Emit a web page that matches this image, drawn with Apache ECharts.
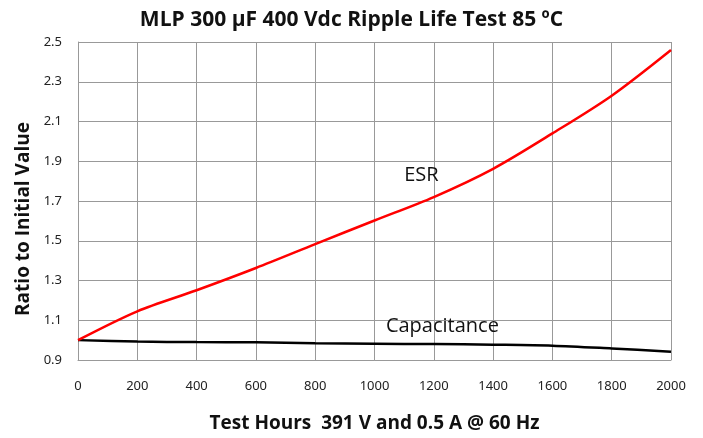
<!DOCTYPE html>
<html>
<head>
<meta charset="utf-8">
<script src="https://cdn.jsdelivr.net/npm/echarts@6/dist/echarts.min.js"></script>
<style>
  html, body { margin: 0; padding: 0; background: #fff; }
  #chart { width: 703px; height: 438px; }
</style>
</head>
<body>
<div id="chart"></div>
<script>
// data
var hours = [0, 200, 400, 600, 800, 1000, 1200, 1400, 1600, 1800, 2000];
var esr = [1.0, 1.145, 1.251, 1.363, 1.483, 1.602, 1.72, 1.862, 2.04, 2.23, 2.46];
var capacitance = [1.0, 0.993, 0.99, 0.989, 0.984, 0.982, 0.98, 0.977, 0.972, 0.958, 0.942];
var yTicks = [0.9, 1.1, 1.3, 1.5, 1.7, 1.9, 2.1, 2.3, 2.5];

function pairs(xs, ys) {
  return xs.map(function (x, i) { return [x, ys[i]]; });
}

// series name written on the plot as plain text
function nameLabel(text, coord) {
  return {
    symbol: 'circle',
    symbolSize: 1,
    itemStyle: { color: 'rgba(0,0,0,0)' },
    data: [{ coord: coord }],
    label: { show: true, position: 'inside', formatter: text, fontFamily: 'Open Sans', fontSize: 20, color: '#111' }
  };
}

var myChart = echarts.init(document.getElementById('chart'));

var option = {
  backgroundColor: '#fff',
  animation: false,
  title: {
    text: 'MLP 300 µF 400 Vdc Ripple Life Test 85 ºC',
    left: 'center',
    top: 5,
    textStyle: { fontFamily: 'Open Sans', fontWeight: 'bold', fontSize: 21, color: '#111' }
  },
  grid: { left: 78, right: 32, top: 42, bottom: 76 },
  xAxis: {
    type: 'value',
    min: 0, max: 2000, interval: 200,
    name: 'Test Hours  391 V and 0.5 A @ 60 Hz',
    nameLocation: 'middle',
    nameGap: 54,
    nameTextStyle: { fontFamily: 'Open Sans', fontWeight: 'bold', fontSize: 19, color: '#111' },
    axisLine: { show: true, lineStyle: { color: '#999', width: 1 } },
    axisTick: { show: false },
    axisLabel: {
      margin: 20, fontFamily: 'Noto Sans', fontSize: 13, color: '#222',
      formatter: function (v) { return String(v); }
    },
    splitLine: { show: true, lineStyle: { color: '#999', width: 1 } }
  },
  yAxis: {
    type: 'value',
    min: 0.9, max: 2.5, interval: 0.2,
    name: 'Ratio to Initial Value',
    nameLocation: 'middle',
    nameGap: 44,
    nameTextStyle: { fontFamily: 'Open Sans', fontWeight: 'bold', fontSize: 19, color: '#111', padding: [0, 0, 0, -36] },
    axisLine: { show: true, lineStyle: { color: '#999', width: 1 } },
    axisTick: { show: false },
    axisLabel: {
      margin: 16, fontFamily: 'Noto Sans', fontSize: 13, color: '#222',
      formatter: function (v) {
        var t = yTicks.find(function (y) { return Math.abs(y - v) < 1e-6; });
        return t === undefined ? '' : t.toFixed(1);
      }
    },
    splitLine: { show: true, lineStyle: { color: '#999', width: 1 } }
  },
  series: [
    {
      name: 'ESR',
      type: 'line',
      smooth: 0.3,
      symbol: 'none',
      data: pairs(hours, esr),
      lineStyle: { color: '#ff0000', width: 2.5 },
      markPoint: nameLabel('ESR', [1158, 1.83]),
      z: 3
    },
    {
      name: 'Capacitance',
      type: 'line',
      smooth: 0.3,
      symbol: 'none',
      data: pairs(hours, capacitance),
      lineStyle: { color: '#000', width: 2.5 },
      markPoint: nameLabel('Capacitance', [1229, 1.07]),
      z: 2
    }
  ]
};

myChart.setOption(option);
</script>
</body>
</html>
